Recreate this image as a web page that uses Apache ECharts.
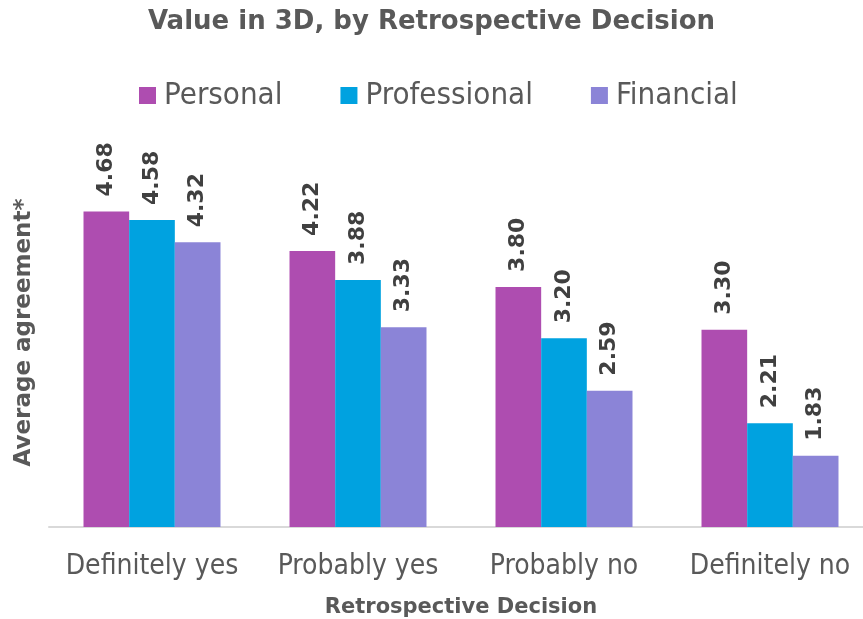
<!DOCTYPE html>
<html>
<head>
<meta charset="utf-8">
<script src="https://cdn.jsdelivr.net/npm/echarts@6/dist/echarts.min.js"></script>
<style>
  html, body { margin: 0; padding: 0; background: #fff; }
  #chart { width: 863px; height: 619px; }
</style>
</head>
<body>
<div id="chart"></div>
<script>
const categories = ['Definitely yes', 'Probably yes', 'Probably no', 'Definitely no']
const personal = [4.68, 4.22, 3.80, 3.30]
const professional = [4.58, 3.88, 3.20, 2.21]
const financial = [4.32, 3.33, 2.59, 1.83]

// regular text looks like Tahoma (narrow), bold text is wider
const font = '"DejaVu Sans Condensed", "DejaVu Sans", sans-serif'
const boldFont = '"DejaVu Sans", sans-serif'

const labelStyle = {
  show: true,
  position: 'top',
  rotate: 90,
  align: 'left',
  verticalAlign: 'middle',
  distance: 15,
  color: '#404040',
  fontWeight: 'bold',
  fontSize: 22,
  fontFamily: boldFont,
  formatter: (p) => p.value.toFixed(2),
}

const makeSeries = (name, data, color) => ({
  name,
  type: 'bar',
  data,
  barGap: '0%',
  barCategoryGap: '33.5%',
  itemStyle: { color },
  label: labelStyle,
})

const chart = echarts.init(document.getElementById('chart'))
chart.setOption({
  animation: false,
  textStyle: { fontFamily: font },
  title: {
    text: 'Value in 3D, by Retrospective Decision',
    left: 'center',
    top: 4,
    textStyle: { color: '#595959', fontSize: 26, fontWeight: 'bold', fontFamily: boldFont },
  },
  legend: {
    data: ['Personal', 'Professional', 'Financial'],
    top: 75,
    left: 134,
    icon: 'rect',
    itemWidth: 17,
    itemHeight: 17,
    itemGap: 58,
    textStyle: { color: '#595959', fontSize: 31, fontFamily: font, padding: [0, 0, 0, 3] },
  },
  // plot area runs a little past the right edge, as in the original
  grid: { left: 49, right: -10, top: 184, bottom: 92, outerBoundsMode: 'none' },
  xAxis: {
    type: 'category',
    data: categories,
    name: 'Retrospective Decision',
    nameLocation: 'middle',
    nameGap: 70,
    nameTextStyle: { color: '#595959', fontSize: 21, fontWeight: 'bold', fontFamily: boldFont },
    axisLine: { lineStyle: { color: '#D9D9D9', width: 2 } },
    axisTick: { show: false },
    axisLabel: { color: '#595959', fontSize: 28, margin: 26, interval: 0, fontFamily: font },
  },
  yAxis: {
    type: 'value',
    min: 1,
    max: 5,
    name: 'Average agreement*',
    nameLocation: 'middle',
    nameRotate: 90,
    nameGap: 13,
    nameTextStyle: { color: '#595959', fontSize: 23, fontWeight: 'bold', fontFamily: boldFont, padding: [0, 0, 0, 46] },
    axisLine: { show: false },
    axisTick: { show: false },
    axisLabel: { show: false },
    splitLine: { show: false },
  },
  series: [
    makeSeries('Personal', personal, '#AE4DB0'),
    makeSeries('Professional', professional, '#00A2E0'),
    makeSeries('Financial', financial, '#8B84D7'),
  ],
})
</script>
</body>
</html>
